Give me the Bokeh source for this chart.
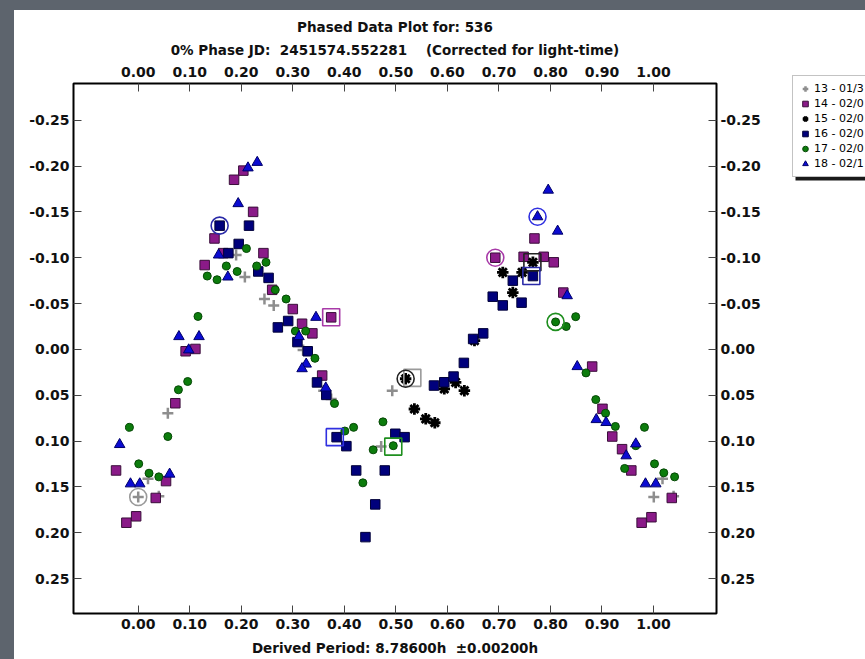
from bokeh.plotting import figure
from bokeh.layouts import row
from bokeh.models import (Range1d, LinearAxis, FixedTicker, NumeralTickFormatter,
                          Title, Legend, LegendItem, GlobalInlineStyleSheet)
from bokeh.embed import file_html
from bokeh.resources import INLINE

# ---------------- data ----------------
phase_ticks = [0.0, 0.1, 0.2, 0.3, 0.4, 0.5, 0.6, 0.7, 0.8, 0.9, 1.0]
mag_ticks = [-0.25, -0.20, -0.15, -0.10, -0.05, 0.0, 0.05, 0.10, 0.15, 0.20, 0.25]

series_labels = ["13 - 01/3", "14 - 02/0", "15 - 02/0", "16 - 02/0", "17 - 02/0", "18 - 02/1"]

s13_phase = [0.190, 0.207, 0.245, 0.263, 0.320, 0.360, 0.3745, 0.4715, 0.493, 0.0575,
             0.019, 0.000, 0.040, 1.0175, 1.0006, 1.039]
s13_mag = [-0.103, -0.079, -0.055, -0.048, 0.0005, 0.045, 0.054, 0.106, 0.045, 0.0696,
           0.141, 0.161, 0.160, 0.141, 0.161, 0.160]

s14_phase = [0.204, 0.186, 0.223, 0.148, 0.165, 0.243, 0.129, 0.260, 0.300, 0.3745,
             0.318, 0.338, 0.092, 0.111, 0.357, 0.072, -0.043, 0.054, 0.034, -0.004,
             -0.023, 0.693, 0.769, 0.748, 0.787, 0.8065, 0.825, 0.881, 0.901, 0.920,
             0.939, 0.957, 1.0355, 0.996, 0.977]
s14_mag = [-0.195, -0.185, -0.150, -0.121, -0.105, -0.105, -0.092, -0.065, -0.044, -0.035,
           -0.028, -0.0175, 0.002, -0.0005, 0.0285, 0.0587, 0.132, 0.1436, 0.162, 0.182,
           0.189, -0.100, -0.121, -0.101, -0.101, -0.095, -0.062, 0.0187, 0.0648, 0.095,
           0.1088, 0.132, 0.162, 0.183, 0.189]

s15_phase = [0.519, 0.536, 0.558, 0.5756, 0.594, 0.616, 0.633, 0.6526, 0.7075, 0.727, 0.745, 0.766]
s15_mag = [0.032, 0.065, 0.0757, 0.080, 0.043, 0.036, 0.045, -0.0096, -0.084, -0.062, -0.084, -0.095]

s16_phase = [0.158, 0.215, 0.195, 0.175, 0.233, 0.253, 0.291, 0.271, 0.309, 0.329,
             0.347, 0.365, 0.385, 0.404, 0.423, 0.460, 0.441, 0.4785, 0.499, 0.517,
             0.574, 0.594, 0.612, 0.632, 0.650, 0.6695, 0.688, 0.7075, 0.727, 0.744, 0.766]
s16_mag = [-0.135, -0.135, -0.115, -0.105, -0.085, -0.078, -0.031, -0.024, -0.008, 0.002,
           0.036, 0.0496, 0.0957, 0.1055, 0.132, 0.169, 0.2047, 0.132, 0.092, 0.0957,
           0.0394, 0.0358, 0.0296, 0.0147, -0.0114, -0.0175, -0.0575, -0.048, -0.075, -0.051, -0.080]

s17_phase = [0.210, 0.171, 0.230, 0.248, 0.192, 0.134, 0.153, 0.266, 0.287, 0.305,
             0.325, 0.343, 0.381, 0.116, 0.096, 0.078, -0.017, 0.0575, 0.001, 0.021,
             0.040, 0.401, 0.418, 0.436, 0.456, 0.475, 0.495, 0.810, 0.8306, 0.849,
             0.869, 0.888, 0.907, 0.926, 0.9825, 0.9657, 1.002, 0.944, 1.020, 1.041]
s17_mag = [-0.110, -0.091, -0.091, -0.095, -0.085, -0.080, -0.076, -0.065, -0.055, -0.020,
           -0.020, 0.0097, 0.059, -0.036, 0.035, 0.044, 0.085, 0.095, 0.1248, 0.135,
           0.139, 0.089, 0.085, 0.1455, 0.1095, 0.079, 0.105, -0.030, -0.025, -0.0357,
           0.0256, 0.0547, 0.0696, 0.084, 0.085, 0.105, 0.1248, 0.1298, 0.1346, 0.139]

s18_phase = [0.231, 0.213, 0.194, 0.156, 0.174, 0.345, 0.312, 0.079, 0.118, 0.098,
             0.326, 0.318, 0.364, -0.036, 0.061, -0.015, 0.003, 0.7957, 0.775, 0.814,
             0.8325, 0.852, 0.889, 0.908, 0.9657, 0.947, 0.9845, 1.0045]
s18_mag = [-0.204, -0.198, -0.159, -0.103, -0.079, -0.035, -0.014, -0.014, -0.014, 0.0005,
           0.016, 0.021, 0.042, 0.1037, 0.136, 0.1466, 0.1466, -0.1737, -0.1447, -0.129,
           -0.0586, 0.0187, 0.0765, 0.0797, 0.103, 0.116, 0.1466, 0.1466]

# highlighted points of each session (circle marks and square marks)
mark_circle_phase = [0.000, 0.693, 0.519, 0.158, 0.810, 0.775]
mark_circle_mag = [0.161, -0.100, 0.032, -0.135, -0.030, -0.1447]
mark_square_phase = [0.532, 0.3745, 0.765, 0.763, 0.495, 0.3815]
mark_square_mag = [0.031, -0.035, -0.095, -0.080, 0.106, 0.0957]

# ---------------- styles ----------------
FONT = "DejaVu Sans"
NB = "\u00a0"
series_style = [
    dict(marker="cross", size=11, line_color="#8e8e8e", line_width=2.5, fill_color=None),
    dict(marker="square", size=9.5, fill_color="#8a1a88", line_color="#3a0f3a", line_width=1),
    dict(marker="asterisk", size=11.5, line_color="#000000", line_width=2.8, fill_color=None),
    dict(marker="square", size=9.5, fill_color="#00007c", line_color="#000038", line_width=1),
    dict(marker="circle", size=8, fill_color="#0c7c0c", line_color="#064806", line_width=1),
    dict(marker="triangle", size=10.5, fill_color="#0b0bd2", line_color="#000068", line_width=1),
]
ring_colors = ["#9a9a9a", "#a83aa8", "#222222", "#2a2aa8", "#1f8f1f", "#3030e0"]

# ---------------- main plot ----------------
p = figure(frame_width=643, frame_height=530,
           x_range=Range1d(-0.1256, 1.1223), y_range=Range1d(0.288, -0.29),
           x_axis_location=None, y_axis_location=None,
           output_backend="svg", toolbar_location=None,
           min_border_left=59, min_border_right=64, min_border_top=73, min_border_bottom=46,
           background_fill_color="white", border_fill_color="white")
p.grid.visible = False
p.outline_line_color = "black"
p.outline_line_width = 2

bottom_axis = LinearAxis()
top_axis = LinearAxis()
left_axis = LinearAxis()
right_axis = LinearAxis()
p.add_layout(bottom_axis, "below")
p.add_layout(top_axis, "above")
p.add_layout(left_axis, "left")
p.add_layout(right_axis, "right")

for ax in [bottom_axis, top_axis]:
    ax.ticker = FixedTicker(ticks=phase_ticks)
for ax in [left_axis, right_axis]:
    ax.ticker = FixedTicker(ticks=mag_ticks)
for ax in [bottom_axis, top_axis, left_axis, right_axis]:
    ax.formatter = NumeralTickFormatter(format="0.00")
    ax.axis_line_color = None
    ax.major_tick_in = 8
    ax.major_tick_out = 0
    ax.minor_tick_line_color = None
    ax.major_tick_line_color = "#444444"
    ax.major_tick_line_width = 1
    ax.major_label_text_font = FONT
    ax.major_label_text_font_style = "bold"
    ax.major_label_text_font_size = "14px"
    ax.major_label_text_color = "#111111"
    ax.major_label_standoff = 4
top_axis.major_label_standoff = 7
bottom_axis.major_label_standoff = 5

bottom_axis.axis_label = "Derived Period: 8.78600h" + NB + " \u00b10.00200h"
bottom_axis.axis_label_text_font = FONT
bottom_axis.axis_label_text_font_style = "bold"
bottom_axis.axis_label_text_font_size = "13.5px"
bottom_axis.axis_label_text_color = "#111111"
bottom_axis.axis_label_standoff = 8

t2 = Title(text="0% Phase JD:" + NB + " 2451574.552281" + NB + " " + NB + " (Corrected for light-time)",
           align="center", text_font=FONT, text_font_style="bold", text_font_size="13.5px",
           text_color="#111111", standoff=11)
t1 = Title(text="Phased Data Plot for: 536", align="center",
           text_font=FONT, text_font_style="bold", text_font_size="13.5px",
           text_color="#111111", standoff=0)
p.add_layout(t2, "above")
p.add_layout(t1, "above")

phases = [s13_phase, s14_phase, s15_phase, s16_phase, s17_phase, s18_phase]
mags = [s13_mag, s14_mag, s15_mag, s16_mag, s17_mag, s18_mag]

for ph, mg, st in zip(phases, mags, series_style):
    p.scatter(ph, mg, **st)

for i in range(6):
    p.scatter([mark_circle_phase[i]], [mark_circle_mag[i]], marker="circle", size=17,
              fill_color=None, line_color=ring_colors[i], line_width=1.6)
    p.scatter([mark_square_phase[i]], [mark_square_mag[i]], marker="square", size=17,
              fill_color=None, line_color=ring_colors[i], line_width=1.6)

# ---------------- legend panel (pixel coordinates) ----------------
LW, LH = 85, 649
lf = figure(width=LW, height=LH, x_range=Range1d(0, LW), y_range=Range1d(LH, 0),
            x_axis_location=None, y_axis_location=None,
            output_backend="svg", toolbar_location=None,
            min_border=0, background_fill_color="white", border_fill_color="white")
lf.grid.visible = False
lf.outline_line_color = None
for fig in (p, lf):
    if "frame_align" in fig.properties():
        fig.frame_align = False

# drop shadow of the legend box
lf.quad(left=[15], right=[LW + 5], top=[70], bottom=[170], fill_color="#1a1a1a", line_color=None)

# legend proxies: one point each, placed outside the visible range
legend_renderers = [lf.scatter(x=[-1000], y=[-1000], **st) for st in series_style]
legend = Legend(items=[LegendItem(label=lbl, renderers=[r]) for lbl, r in zip(series_labels, legend_renderers)],
                location=(12, LH - 167), orientation="vertical",
                label_text_font=FONT, label_text_font_size="11px", label_text_color="#000000",
                glyph_width=14, glyph_height=15, label_height=15, label_standoff=2,
                padding=5, spacing=0, margin=0,
                border_line_color="#888888", border_line_width=1,
                background_fill_color="white", background_fill_alpha=1.0)
lf.add_layout(legend)

layout = row(p, lf, spacing=0)
layout.styles = {"background-color": "white"}
layout.stylesheets = [GlobalInlineStyleSheet(css="body { background: #5d646d; margin: 10px 0 0 14px; }")]

open("out.html", "w").write(file_html(layout, INLINE))
